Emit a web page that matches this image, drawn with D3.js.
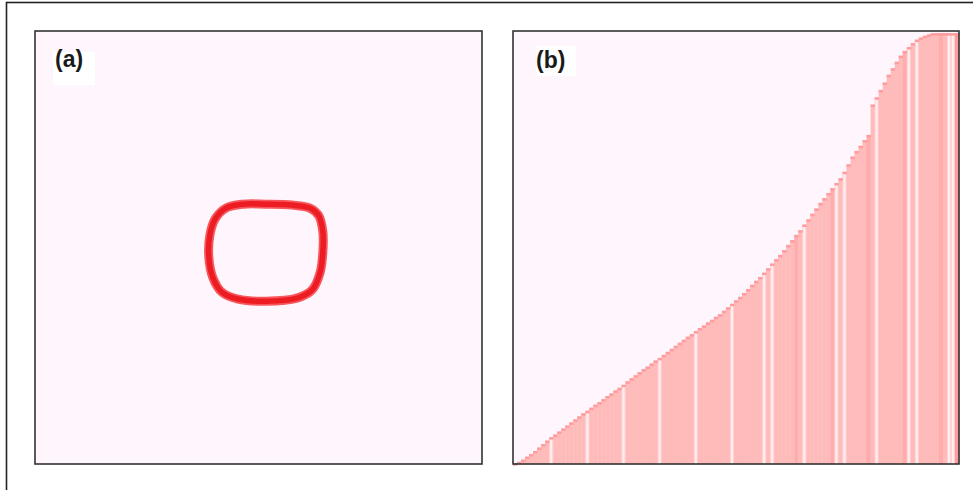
<!DOCTYPE html>
<html>
<head>
<meta charset="utf-8">
<script src="https://cdn.jsdelivr.net/npm/d3@7"></script>
<style>
  html, body { margin: 0; padding: 0; background: #ffffff; }
  svg { display: block; }
</style>
</head>
<body>
<svg id="chart" width="973" height="490"></svg>
<script>
// Panel labels
const panelLabels = ["(a)", "(b)"];

// Panel (a): closed contour traced in data units (0–100 on both axes)
const ringX = [51.7, 57.5, 61.5, 63.5, 64.4, 64.4, 63.8, 62.0, 58.6, 51.7, 45.4, 41.8, 39.8, 38.9, 39.1, 40.3, 42.7, 46.5];
const ringY = [60.0, 59.8, 59.1, 57.3, 53.6, 49.0, 44.3, 40.2, 38.3, 37.6, 38.1, 39.7, 43.0, 47.6, 52.7, 56.6, 59.1, 60.0];

// Panel (b): cumulative height of each bar (0–100)
const barValues = [
  0.2, 0.5, 1.0, 1.7, 2.3, 3.0, 3.8, 4.6, 5.4, 6.2,
  6.8, 7.5, 8.2, 8.9, 9.6, 10.3, 11.0, 11.7, 12.3, 13.0,
  13.7, 14.3, 15.0, 15.7, 16.3, 17.0, 17.6, 18.3, 19.1, 19.8,
  20.5, 21.2, 21.9, 22.5, 23.2, 23.9, 24.5, 25.2, 25.9, 26.6,
  27.3, 28.0, 28.7, 29.4, 30.0, 30.7, 31.4, 32.0, 32.7, 33.3,
  34.0, 34.6, 35.4, 36.2, 37.0, 37.8, 38.6, 39.5, 40.4, 41.4,
  42.3, 43.2, 44.2, 45.2, 46.3, 47.3, 48.3, 49.4, 50.6, 51.7,
  52.9, 54.0, 55.3, 56.5, 57.8, 59.0, 60.3, 61.4, 62.6, 63.7,
  64.9, 66.0, 67.5, 69.2, 71.0, 72.3, 73.5, 74.8, 76.0, 83.0,
  84.7, 86.4, 88.1, 89.9, 91.4, 92.9, 94.3, 95.4, 96.3, 97.2,
  98.0, 98.5, 98.9, 99.2, 99.5, 99.5, 99.5, 99.5, 99.5, 99.5,
  99.5
];
// Bars drawn in a lighter tone
const lightBars = [9, 18, 27, 36, 45, 54, 62, 64, 72, 80, 82, 90, 98, 100, 108, 109];
// Bars drawn in a slightly deeper tone
const deepBars = [70, 79, 88, 97, 106];
// Final bar, strongest tone
const edgeBars = [110];

const svg = d3.select("#chart");

// Outer frame (open at right and bottom)
svg.append("rect")
  .attr("x", 6.5).attr("y", 2.5)
  .attr("width", 1000).attr("height", 600)
  .attr("fill", "#ffffff")
  .attr("stroke", "#222").attr("stroke-width", 1.6);

const bg = "#fff5fc";
const plotTop = 31, plotBottom = 464;

// ---------- Panel (a) ----------
const ax = d3.scaleLinear().domain([0, 100]).range([35, 482]);
const ay = d3.scaleLinear().domain([0, 100]).range([plotBottom, plotTop]);

const gA = svg.append("g");
gA.append("rect")
  .attr("x", ax(0)).attr("y", ay(100))
  .attr("width", ax(100) - ax(0)).attr("height", ay(0) - ay(100))
  .attr("fill", bg);

const ringPts = ringX.map((x, i) => [x, ringY[i]]);
const ringLine = d3.line()
  .x(d => ax(d[0])).y(d => ay(d[1]))
  .curve(d3.curveCatmullRomClosed.alpha(0.5));

const defs = svg.append("defs");
defs.append("filter").attr("id", "soft")
  .append("feGaussianBlur").attr("stdDeviation", 0.6);

gA.append("path")
  .attr("d", ringLine(ringPts))
  .attr("fill", "none")
  .attr("stroke", "#f7585e")
  .attr("stroke-width", 9)
  .attr("filter", "url(#soft)");
gA.append("path")
  .attr("d", ringLine(ringPts))
  .attr("fill", "none")
  .attr("stroke", "#ec1c24")
  .attr("stroke-width", 5.5)
  .attr("filter", "url(#soft)");

gA.append("rect")
  .attr("x", ax(0)).attr("y", ay(100))
  .attr("width", ax(100) - ax(0)).attr("height", ay(0) - ay(100))
  .attr("fill", "none").attr("stroke", "#333").attr("stroke-width", 1.6);

// label (a)
gA.append("rect").attr("x", 53).attr("y", 52).attr("width", 42).attr("height", 33).attr("fill", "#ffffff");
gA.append("text")
  .attr("x", 55).attr("y", 67)
  .attr("font-family", "Liberation Sans, Arial, sans-serif")
  .attr("font-weight", "bold").attr("font-size", 23)
  .attr("fill", "#1a1a1a")
  .text(panelLabels[0]);

// ---------- Panel (b) ----------
const bx = d3.scaleBand().domain(d3.range(barValues.length)).range([513, 959]).padding(0);
const by = d3.scaleLinear().domain([0, 100]).range([plotBottom, plotTop]);

const gB = svg.append("g");
gB.append("rect")
  .attr("x", 513).attr("y", by(100))
  .attr("width", 959 - 513).attr("height", by(0) - by(100))
  .attr("fill", bg);

const lightSet = new Set(lightBars), deepSet = new Set(deepBars), edgeSet = new Set(edgeBars);
const bars = barValues.map((v, i) => ({ i, v }));

const fillOf = d => edgeSet.has(d.i) ? "#ff9a9a" : deepSet.has(d.i) ? "#ffacac" : lightSet.has(d.i) ? "#ffd2d4" : "#ffbaba";

gB.selectAll("rect.bar").data(bars).join("rect")
  .attr("class", "bar")
  .attr("x", d => bx(d.i))
  .attr("width", bx.bandwidth() + 0.35)
  .attr("y", d => by(d.v))
  .attr("height", d => by(0) - by(d.v))
  .attr("fill", fillOf);

// lighter centre line inside the light bars
gB.selectAll("rect.glow").data(bars.filter(d => lightSet.has(d.i))).join("rect")
  .attr("class", "glow")
  .attr("x", d => bx(d.i) + bx.bandwidth() / 2 - 1)
  .attr("width", 2)
  .attr("y", d => by(d.v) + 2)
  .attr("height", d => Math.max(0, by(0) - by(d.v) - 2))
  .attr("fill", "#ffeef0");

// darker cap along the top of each bar
gB.selectAll("rect.cap").data(bars).join("rect")
  .attr("class", "cap")
  .attr("x", d => bx(d.i))
  .attr("width", bx.bandwidth() + 0.35)
  .attr("y", d => by(d.v))
  .attr("height", 2.5)
  .attr("fill", "#ff9c9e");

gB.append("rect")
  .attr("x", 513).attr("y", by(100))
  .attr("width", 959 - 513).attr("height", by(0) - by(100))
  .attr("fill", "none").attr("stroke", "#333").attr("stroke-width", 1.6);

// label (b)
gB.append("rect").attr("x", 536).attr("y", 46).attr("width", 40).attr("height", 30).attr("fill", "#ffffff");
gB.append("text")
  .attr("x", 536).attr("y", 68)
  .attr("font-family", "Liberation Sans, Arial, sans-serif")
  .attr("font-weight", "bold").attr("font-size", 23)
  .attr("fill", "#1a1a1a")
  .text(panelLabels[1]);
</script>
</body>
</html>
